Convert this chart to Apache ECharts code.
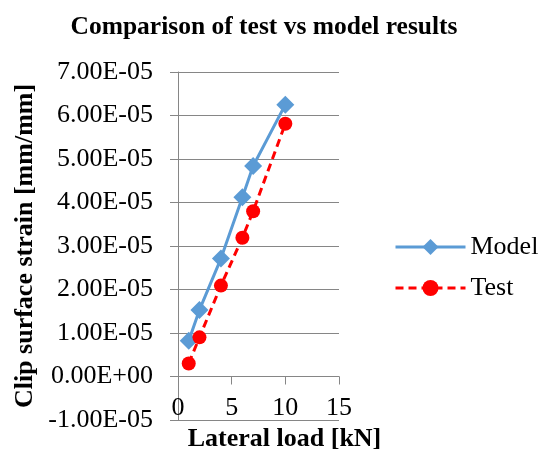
<!DOCTYPE html>
<html lang="en">
<head>
  <meta charset="UTF-8">
  <title>Comparison of test vs model results</title>
  <script src="https://cdn.jsdelivr.net/npm/echarts@6/dist/echarts.min.js"></script>
  <style>
    html, body { margin: 0; padding: 0; background: #fff; }
  </style>
</head>
<body>
  <div id="main" style="width: 541px;height:453px;"></div>
  <script type="text/javascript">
    // lateral load [kN]
    var loadsModel = [1, 2, 4, 6, 7, 10];
    var loadsTest = [1, 2, 4, 6, 7, 10];
    // clip surface strain [mm/mm]
    var strainModel = [0.82e-5, 1.53e-5, 2.71e-5, 4.12e-5, 4.84e-5, 6.25e-5];
    var strainTest = [0.30e-5, 0.90e-5, 2.09e-5, 3.19e-5, 3.80e-5, 5.81e-5];

    var serif = "'Liberation Serif', 'Times New Roman', serif";
    var gridColor = '#868686';

    function sci(v) {
      var parts = v.toExponential(2).split('e');
      var mant = parts[0];
      var exp = parseInt(parts[1], 10);
      if (Math.abs(v) < 1e-12) { mant = '0.00'; exp = 0; }
      var sign = exp < 0 ? '-' : '+';
      var e = Math.abs(exp);
      return mant + 'E' + sign + (e < 10 ? '0' + e : e);
    }

    function pairs(xs, ys) {
      return xs.map(function (x, i) { return [x, ys[i]]; });
    }

    var myChart = echarts.init(document.getElementById('main'));

    // x axis sits on y = 0, one band (of 8) above the bottom of the grid
    var gridTop = 72, gridBottom = 33;
    var zeroShift = (453 - gridTop - gridBottom) / 8;

    var option = {
      animation: false,
      title: {
        text: 'Comparison of test vs model results',
        left: 259,
        textAlign: 'center',
        top: 9,
        textStyle: { fontFamily: serif, fontSize: 25.5, fontWeight: 'bold', color: '#000' }
      },
      legend: {
        orient: 'vertical',
        left: 389,
        top: 229,
        itemWidth: 70,
        itemHeight: 20,
        itemGap: 15,
        lineStyle: { width: 3 },
        textStyle: { fontFamily: serif, fontSize: 26, color: '#000' },
        data: ['Model', 'Test']
      },
      grid: { left: 178, right: 202, top: gridTop, bottom: gridBottom, outerBoundsMode: 'none' },
      xAxis: {
        type: 'value',
        min: 0,
        max: 15,
        interval: 5,
        offset: -zeroShift,
        name: 'Lateral load [kN]',
        nameLocation: 'middle',
        nameGap: 50,
        nameTextStyle: { fontFamily: serif, fontSize: 26, fontWeight: 'bold', color: '#000', padding: [0, 0, 0, 52] },
        axisLine: { onZero: false, lineStyle: { color: gridColor, width: 1 } },
        axisTick: { show: true, length: 8, lineStyle: { color: gridColor } },
        axisLabel: { fontFamily: serif, fontSize: 26, color: '#000', margin: 19 },
        splitLine: { show: false }
      },
      yAxis: {
        type: 'value',
        min: -1e-5,
        max: 7e-5,
        interval: 1e-5,
        name: 'Clip surface strain [mm/mm]',
        nameLocation: 'middle',
        nameGap: 140,
        nameTextStyle: { fontFamily: serif, fontSize: 26, fontWeight: 'bold', color: '#000' },
        axisLine: { show: true, onZero: false, lineStyle: { color: gridColor, width: 1 } },
        axisTick: { show: true, length: 8, lineStyle: { color: gridColor } },
        axisLabel: { fontFamily: serif, fontSize: 26, color: '#000', margin: 25, formatter: sci },
        splitLine: { show: true, lineStyle: { color: gridColor, width: 1 } }
      },
      series: [
        {
          name: 'Model',
          type: 'line',
          data: pairs(loadsModel, strainModel),
          symbol: 'diamond',
          symbolSize: 18,
          itemStyle: { color: '#5B9BD5' },
          lineStyle: { color: '#5B9BD5', width: 3 }
        },
        {
          name: 'Test',
          type: 'line',
          data: pairs(loadsTest, strainTest),
          symbol: 'circle',
          symbolSize: 14,
          itemStyle: { color: '#FF0000' },
          lineStyle: { color: '#FF0000', width: 3, type: [8, 5] }
        }
      ]
    };

    myChart.setOption(option);
  </script>
</body>
</html>
